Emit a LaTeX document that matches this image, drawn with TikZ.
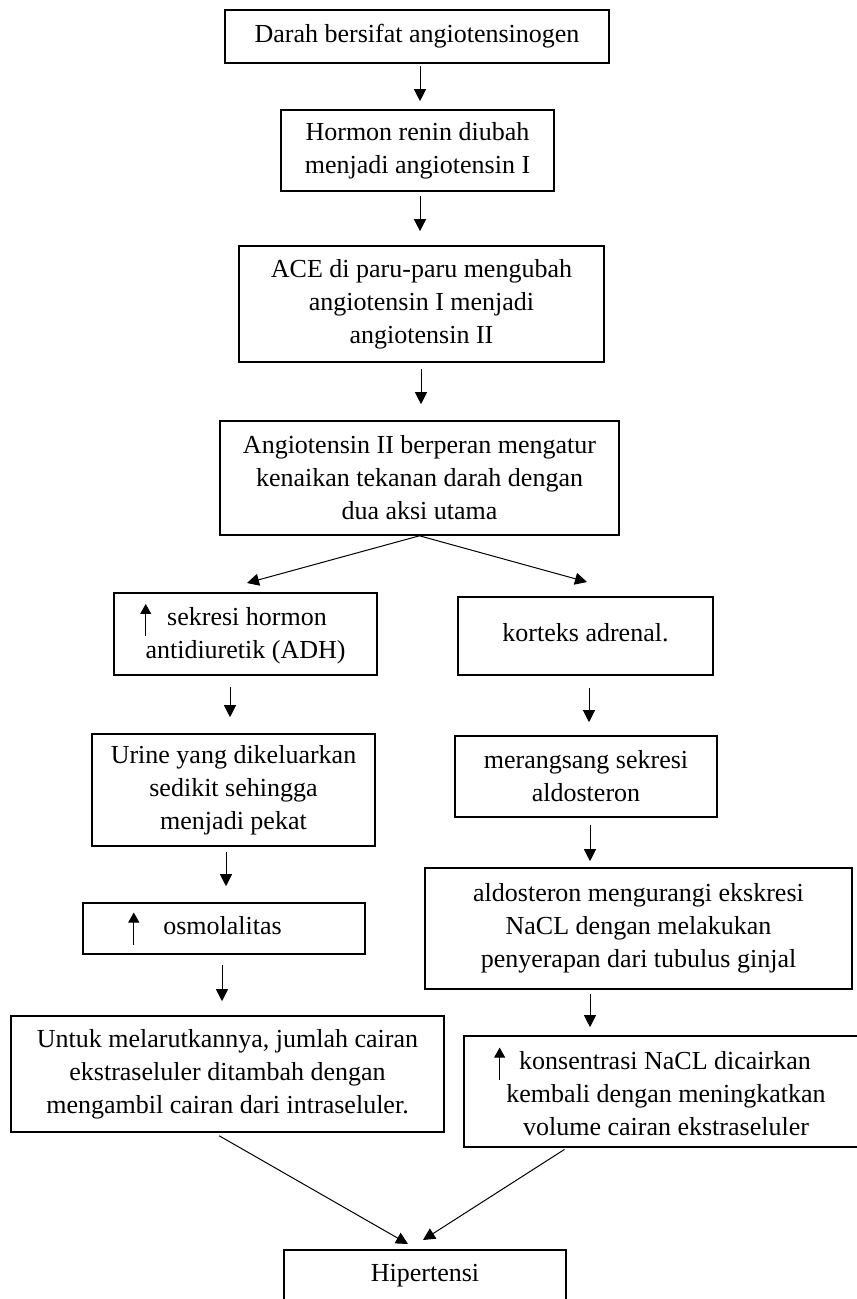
\documentclass[tikz,border=0pt]{standalone}
\usepackage{fontspec}
\setmainfont{Liberation Serif}
\usetikzlibrary{arrows.meta}

% small up arrow set in front of a text line
\newcommand{\naik}{\tikz[baseline={(0,5pt)}]\draw[line width=0.5pt,-{Triangle[length=5pt,width=5.5pt]}] (0,0)--(0,16pt);}

\begin{document}
\begin{tikzpicture}[x=0.5pt,y=-0.5pt,>={Triangle[length=6pt,width=6pt]},
        font=\fontsize{13}{16.5}\selectfont,
        box/.style={draw,line width=0.8pt,align=center,inner sep=2pt},
        arr/.style={->,line width=0.5pt}]
        \useasboundingbox (0,0) rectangle (856,1299);
        % middle column
        \node[box,minimum width=192pt,minimum height=26.5pt](darah) at (417,36.5){Darah bersifat angiotensinogen};
        \node[box,minimum width=136.5pt,minimum height=40.5pt](renin) at (417.5,150.5){Hormon renin diubah\\ menjadi angiotensin I};
        \node[box,minimum width=182.5pt,minimum height=58pt](ace) at (421.5,304){ACE di paru-paru mengubah\\ angiotensin I menjadi\\ angiotensin II};
        \node[box,minimum width=199.5pt,minimum height=57pt](angdua) at (419.5,478){Angiotensin II berperan mengatur\\ kenaikan tekanan darah dengan\\ dua aksi utama};
        % left branch
        \node[box,minimum width=131.5pt,minimum height=41pt](adh) at (245.5,634){\naik\hspace{8pt}sekresi hormon\hspace*{12pt}\\ antidiuretik (ADH)};
        \node[box,minimum width=141.5pt,minimum height=56pt](urine) at (233.5,790){Urine yang dikeluarkan\\ sedikit sehingga\\ menjadi pekat};
        \node[box,minimum width=141pt,minimum height=25.5pt](osmo) at (224,928.5){\naik\hspace{12pt}osmolalitas\hspace*{19pt}};
        \node[box,minimum width=216.5pt,minimum height=58pt](larut) at (227.5,1074){Untuk melarutkannya, jumlah cairan\\ ekstraseluler ditambah dengan\\ mengambil cairan dari intraseluler.};
        % right branch
        \node[box,minimum width=127.5pt,minimum height=39pt](korteks) at (585.5,636){\raisebox{4pt}{korteks adrenal.}};
        \node[box,minimum width=131pt,minimum height=40.5pt](rangsang) at (586,776.5){merangsang sekresi\\ aldosteron};
        \node[box,minimum width=213.5pt,minimum height=60.5pt](aldo) at (638.5,928.5){aldosteron mengurangi ekskresi\\ NaCL dengan melakukan\\ penyerapan dari tubulus ginjal};
        \node[box,minimum width=202pt,minimum height=55.5pt](nacl) at (666,1091.5){\naik\hspace{7pt}konsentrasi NaCL dicairkan\hspace*{13.5pt}\\ kembali dengan meningkatkan\\ volume cairan ekstraseluler};
        \node[box,minimum width=141pt,minimum height=26pt](hiper) at (425,1276){Hipertensi};
        % arrows
        \foreach \a/\b/\x/\s/\t in {darah/renin/420/1/4,renin/ace/420/2/7,ace/angdua/421/3/8,
            adh/urine/230/5.5/8,urine/osmo/226/2.5/8,osmo/larut/222/5/7,
            korteks/rangsang/589/6/6.5,rangsang/aldo/590/3.5/3,aldo/nacl/590/2/4}
          {\draw[arr,shorten <=\s pt,shorten >=\t pt](\a.south -| \x,0)--(\b.north -| \x,0);}
        \coordinate (kiri) at (247,583);
        \coordinate (kanan) at (587,582);
        \draw[arr](angdua.south)--(kiri);
        \draw[arr](angdua.south)--(kanan);
        \coordinate (hipkiri) at (408,1244);
        \coordinate (hipkanan) at (423,1240);
        \draw[arr,shorten <=3pt](larut.south -| 214,0)--(hipkiri);
        \draw[arr,shorten <=1.5pt](nacl.south -| 567,0)--(hipkanan);
\end{tikzpicture}
\end{document}
